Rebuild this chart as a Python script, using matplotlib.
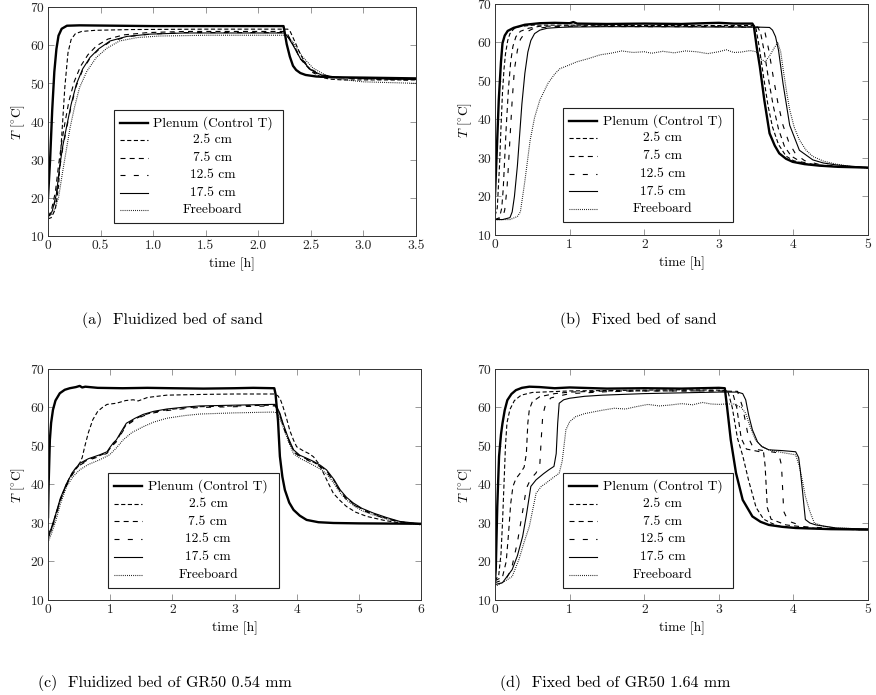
import matplotlib
matplotlib.use("Agg")
import matplotlib.pyplot as plt
from matplotlib.lines import Line2D
from matplotlib.patches import Rectangle


# ---- data (time in h, temperature in degC) ----
SERIES = ["Plenum (Control T)", "2.5 cm", "7.5 cm", "12.5 cm", "17.5 cm", "Freeboard"]

# (a) fluidized bed of sand
a_plenum_t = [0, 0.02, 0.04, 0.06, 0.08, 0.10, 0.13, 0.18, 0.30, 1.0, 2.0, 2.24, 2.25, 2.27, 2.30, 2.33, 2.36, 2.40, 2.45, 2.55, 2.7, 3.0, 3.5]
a_plenum_T = [20, 30, 43, 53, 59, 62.5, 64.3, 65.1, 65.2, 65.0, 65.0, 65.0, 63.5, 60.3, 57.0, 54.6, 53.5, 52.7, 52.2, 51.8, 51.6, 51.5, 51.3]
a_25_t = [0, 0.03, 0.07, 0.10, 0.13, 0.16, 0.19, 0.22, 0.26, 0.32, 0.45, 0.8, 1.5, 2.28, 2.30, 2.35, 2.40, 2.46, 2.52, 2.60, 2.68, 2.8, 3.5]
a_25_T = [14.5, 14.8, 17, 23, 36, 49, 58, 61.5, 63, 63.6, 63.9, 64.1, 64.2, 64.2, 63.8, 60.8, 57.6, 54.8, 52.8, 51.6, 51.1, 50.9, 50.9]
a_75_t = [0, 0.03, 0.07, 0.10, 0.13, 0.16, 0.20, 0.25, 0.31, 0.38, 0.46, 0.57, 0.72, 0.95, 1.3, 2.25, 2.28, 2.33, 2.40, 2.50, 2.60, 2.75, 3.0, 3.5]
a_75_T = [15, 16.5, 21.5, 28.5, 34.5, 39.5, 45.5, 50.5, 54.5, 57.5, 59.8, 61.6, 62.7, 63.3, 63.6, 63.6, 62.8, 60.2, 56.4, 53.3, 52.0, 51.5, 51.2, 51.0]
a_125_t = [0, 0.04, 0.08, 0.11, 0.14, 0.175, 0.22, 0.27, 0.33, 0.40, 0.48, 0.59, 0.75, 0.97, 1.3, 2.25, 2.28, 2.33, 2.4, 2.5, 2.6, 2.75, 3.0, 3.5]
a_125_T = [15, 16.3, 20.5, 27.5, 33, 38, 44, 49.4, 53.5, 56.6, 58.8, 60.9, 62.2, 62.9, 63.3, 63.3, 62.5, 60.3, 56.8, 53.7, 52.3, 51.6, 51.2, 50.8]
a_175_t = [0, 0.04, 0.08, 0.11, 0.14, 0.175, 0.22, 0.27, 0.33, 0.40, 0.48, 0.59, 0.75, 0.97, 1.3, 2.25, 2.28, 2.33, 2.4, 2.5, 2.6, 2.75, 3.0, 3.5]
a_175_T = [15, 16.5, 21, 28, 33.5, 38.4, 44.5, 49.8, 53.8, 56.8, 59.0, 61.1, 62.3, 62.9, 63.2, 63.2, 62.2, 60.0, 56.5, 53.5, 52.2, 51.6, 51.3, 51.0]
a_fb_t = [0, 0.05, 0.10, 0.14, 0.18, 0.21, 0.25, 0.30, 0.37, 0.46, 0.56, 0.68, 0.85, 1.06, 1.5, 2.25, 2.29, 2.34, 2.42, 2.52, 2.65, 2.8, 3.0, 3.5]
a_fb_T = [15, 16, 20, 27, 33.5, 38.4, 43.5, 48.9, 53.2, 56.8, 59.2, 61.1, 62.0, 62.4, 62.6, 62.6, 61.9, 60.5, 57.0, 54.0, 52.0, 51.0, 50.4, 50.0]

# (b) fixed bed of sand
b_plenum_t = [0, 0.02, 0.05, 0.08, 0.10, 0.13, 0.17, 0.25, 0.4, 0.6, 0.8, 1.0, 1.05, 1.1, 1.5, 2.0, 2.5, 2.8, 3.0, 3.2, 3.45, 3.47, 3.51, 3.55, 3.61, 3.68, 3.75, 3.81, 3.9, 3.99, 4.15, 4.35, 4.6, 5.0]
b_plenum_T = [20.5, 30, 45, 55, 59.8, 61.8, 63.0, 63.8, 64.6, 65.0, 65.1, 65.0, 65.3, 64.9, 64.8, 64.9, 64.8, 65.0, 65.1, 64.9, 64.9, 64.2, 58.5, 53.7, 45, 36.4, 33.2, 31.2, 29.8, 29.0, 28.4, 28.0, 27.7, 27.5]
b_25_t = [0, 0.03, 0.06, 0.08, 0.10, 0.12, 0.14, 0.17, 0.20, 0.25, 0.32, 0.5, 1.0, 2.0, 3.0, 3.48, 3.50, 3.54, 3.60, 3.66, 3.72, 3.80, 3.90, 4.0, 4.2, 4.5, 5.0]
b_25_T = [15, 17, 28, 38, 47, 53, 57, 60.5, 62.3, 63.5, 64.1, 64.5, 64.5, 64.4, 64.4, 64.4, 63.5, 59, 51, 43.5, 38, 33.5, 30.5, 29.3, 28.3, 27.8, 27.5]
b_75_t = [0, 0.06, 0.09, 0.11, 0.13, 0.15, 0.18, 0.21, 0.24, 0.28, 0.34, 0.45, 0.6, 1.0, 2.0, 3.0, 3.52, 3.56, 3.61, 3.67, 3.73, 3.80, 3.88, 3.97, 4.1, 4.3, 4.6, 5.0]
b_75_T = [14, 14.5, 17, 22, 30, 38, 48, 55, 59, 61.5, 62.9, 63.7, 64.2, 64.3, 64.2, 64.2, 64.0, 62.5, 57.5, 50, 43.5, 37.5, 33, 30.5, 29.0, 28.2, 27.8, 27.5]
b_125_t = [0, 0.10, 0.13, 0.16, 0.18, 0.20, 0.23, 0.26, 0.30, 0.34, 0.40, 0.5, 0.7, 1.0, 2.0, 3.0, 3.58, 3.62, 3.67, 3.73, 3.79, 3.86, 3.94, 4.03, 4.15, 4.35, 4.6, 5.0]
b_125_T = [14, 14.3, 16.5, 22, 28, 35, 45, 53, 58, 60.8, 62.5, 63.5, 64.0, 64.2, 64.1, 64.1, 63.9, 62.5, 58, 51, 44.5, 38.5, 34, 31, 29.3, 28.3, 27.8, 27.4]
b_175_t = [0, 0.10, 0.2, 0.23, 0.26, 0.30, 0.33, 0.36, 0.40, 0.44, 0.48, 0.53, 0.6, 0.7, 0.85, 1.0, 1.5, 2.0, 3.0, 3.5, 3.68, 3.72, 3.76, 3.80, 3.86, 3.95, 4.08, 4.26, 4.4, 4.57, 5.0]
b_175_T = [14, 14, 14.5, 16, 20, 28, 36, 44, 52, 57.5, 60.5, 62.3, 63.2, 63.7, 63.9, 64.0, 64.1, 64.1, 64.0, 64.0, 63.9, 63.2, 61.5, 58, 49.4, 38.5, 32.0, 29.5, 28.7, 28.2, 27.5]
b_fb_t = [0, 0.2, 0.3, 0.34, 0.4, 0.47, 0.53, 0.6, 0.71, 0.8, 0.87, 0.95, 1.1, 1.25, 1.41, 1.55, 1.7, 1.85, 2.0, 2.1, 2.25, 2.4, 2.55, 2.7, 2.85, 3.0, 3.1, 3.2, 3.3, 3.42, 3.5, 3.56, 3.62, 3.68, 3.74, 3.79, 3.83, 3.87, 3.91, 3.95, 4.01, 4.08, 4.17, 4.26, 4.4, 4.57, 4.8, 5.0]
b_fb_T = [14, 14, 14.8, 16, 24, 34.5, 40.5, 45, 49.4, 51.8, 53.2, 53.8, 55, 55.8, 56.8, 57.2, 57.8, 57.4, 57.6, 57.2, 57.7, 57.3, 57.8, 57.6, 57.1, 57.6, 58.1, 57.4, 57.5, 57.9, 57.6, 55.8, 55.0, 56.5, 58.5, 60.0, 57.5, 52.0, 47, 42.5, 38, 34.7, 32.0, 30.4, 29.2, 28.4, 27.7, 27.3]

# (c) fluidized bed of GR50 0.54 mm
c_plenum_t = [0, 0.01, 0.03, 0.05, 0.08, 0.12, 0.19, 0.27, 0.35, 0.45, 0.51, 0.55, 0.6, 0.8, 1.2, 1.6, 2.0, 2.5, 3.0, 3.3, 3.64, 3.66, 3.70, 3.73, 3.77, 3.81, 3.88, 3.95, 4.05, 4.16, 4.35, 4.59, 5.0, 6.0]
c_plenum_T = [31.5, 40, 51.6, 56, 59.4, 61.8, 63.7, 64.6, 65.0, 65.3, 65.6, 65.2, 65.4, 65.1, 65.0, 65.1, 65.0, 64.9, 65.0, 65.1, 65.0, 63.5, 56.5, 47.3, 42, 38.6, 35.3, 33.4, 31.9, 30.8, 30.2, 30.0, 29.9, 29.8]
c_25_t = [0, 0.05, 0.13, 0.2, 0.3, 0.4, 0.51, 0.55, 0.59, 0.65, 0.72, 0.8, 0.89, 0.95, 1.1, 1.25, 1.37, 1.45, 1.6, 1.91, 2.5, 3.0, 3.65, 3.70, 3.74, 3.78, 3.84, 3.89, 3.95, 4.0, 4.1, 4.2, 4.27, 4.35, 4.43, 4.51, 4.59, 4.7, 4.8, 4.95, 5.13, 5.4, 5.66, 6.0]
c_25_T = [26, 28, 32.6, 36, 40.3, 43.3, 45.5, 47, 49.8, 53.5, 56.8, 59, 60.2, 60.8, 61.1, 61.8, 62.0, 61.7, 62.6, 63.2, 63.4, 63.5, 63.5, 63.0, 62, 60.2, 57, 54, 51.5, 49.8, 48.8, 48, 47.2, 45.5, 43, 40.3, 37.7, 35.8, 34.3, 32.8, 31.7, 30.7, 30.0, 29.7]
c_bed_t = [0, 0.05, 0.13, 0.2, 0.3, 0.4, 0.51, 0.65, 0.83, 0.95, 0.99, 1.05, 1.1, 1.18, 1.26, 1.4, 1.53, 1.7, 1.91, 2.2, 2.44, 3.0, 3.6, 3.65, 3.68, 3.73, 3.78, 3.86, 3.95, 4.05, 4.15, 4.27, 4.38, 4.48, 4.6, 4.7, 4.8, 4.91, 5.05, 5.23, 5.45, 5.66, 6.0]
c_75_T = [26.5, 28.2, 32.2, 36.2, 40.0, 43.0, 45.2, 46.5, 47.5, 48.3, 49.2, 50.5, 51.3, 53.5, 55.6, 57.0, 58.0, 58.8, 59.4, 59.9, 60.2, 60.4, 60.6, 60.6, 60.0, 58.2, 55.5, 52.0, 48.8, 47.4, 46.7, 45.8, 44.8, 43.5, 41.0, 38.3, 36.4, 35.0, 33.6, 32.4, 31.2, 30.3, 29.7]
c_125_T = [26.2, 28.0, 32.0, 36.0, 39.8, 42.8, 45.0, 46.3, 47.3, 48.1, 49.0, 50.3, 51.1, 53.2, 55.3, 56.8, 57.8, 58.6, 59.2, 59.7, 60.0, 60.2, 60.4, 60.4, 59.8, 58.0, 55.2, 51.7, 48.5, 47.2, 46.5, 45.6, 44.6, 43.3, 40.8, 38.1, 36.2, 34.8, 33.4, 32.2, 31.1, 30.2, 29.6]
c_175_T = [27, 28.5, 32.6, 36.5, 40.3, 43.3, 45.5, 46.7, 47.7, 48.5, 49.5, 50.8, 51.6, 53.8, 55.9, 57.2, 58.2, 59.0, 59.6, 60.1, 60.4, 60.6, 60.8, 60.8, 60.2, 58.5, 55.9, 52.3, 49, 47.6, 46.9, 46.0, 45.0, 43.8, 41.3, 38.6, 36.7, 35.2, 33.8, 32.6, 31.4, 30.4, 29.8]
c_fb_t = [0, 0.05, 0.13, 0.2, 0.3, 0.4, 0.51, 0.65, 0.83, 0.99, 1.1, 1.21, 1.35, 1.53, 1.7, 1.91, 2.2, 2.44, 3.0, 3.6, 3.65, 3.70, 3.78, 3.86, 3.95, 4.05, 4.15, 4.27, 4.38, 4.48, 4.6, 4.7, 4.8, 4.91, 5.05, 5.23, 5.45, 5.66, 6.0]
c_fb_T = [25, 27, 30.8, 35, 39.5, 42, 43.8, 45.2, 46.4, 47.7, 49.5, 51.6, 53.5, 55.0, 56.2, 57.2, 57.9, 58.3, 58.6, 58.8, 58.8, 58.2, 55.0, 51.5, 48.0, 46.8, 46.0, 45.0, 44.0, 42.8, 40.3, 37.8, 36.0, 34.6, 33.2, 32.1, 31.0, 30.3, 29.5]

# (d) fixed bed of GR50 1.64 mm
d_plenum_t = [0, 0.01, 0.03, 0.054, 0.08, 0.1, 0.13, 0.165, 0.22, 0.28, 0.36, 0.46, 0.6, 0.8, 1.0, 1.5, 2.0, 2.5, 3.0, 3.08, 3.11, 3.16, 3.23, 3.32, 3.45, 3.56, 3.67, 3.85, 4.03, 4.5, 5.0]
d_plenum_T = [15, 18, 34.3, 47.3, 53, 55.9, 59.3, 61.9, 63.5, 64.5, 65.1, 65.4, 65.3, 65.0, 65.2, 64.9, 65.0, 64.9, 65.1, 65.0, 60.2, 51.6, 43, 36, 31.7, 30.3, 29.5, 29.0, 28.7, 28.4, 28.3]
d_25_t = [0, 0.05, 0.08, 0.10, 0.12, 0.14, 0.16, 0.20, 0.26, 0.35, 0.5, 1.0, 1.5, 2.0, 2.5, 3.0, 3.12, 3.18, 3.25, 3.32, 3.4, 3.5, 3.6, 3.7, 3.8, 4.0, 4.2, 5.0]
d_25_T = [15, 16.5, 22, 30, 40, 50, 56, 59.5, 61.8, 63.2, 63.9, 64.3, 64.4, 64.5, 64.6, 64.5, 64.3, 60, 52, 47.5, 41, 34, 31, 30.0, 29.2, 28.8, 28.6, 28.2]
d_75_t = [0, 0.10, 0.15, 0.18, 0.21, 0.24, 0.28, 0.34, 0.39, 0.42, 0.44, 0.46, 0.5, 0.6, 0.8, 1.0, 1.5, 3.0, 3.18, 3.24, 3.3, 3.37, 3.5, 3.6, 3.62, 3.65, 3.7, 3.9, 4.3, 5.0]
d_75_T = [15, 16, 20, 27, 35, 39.5, 41.5, 43, 44.5, 48, 56, 59.5, 61.5, 62.8, 63.6, 64.0, 64.3, 64.3, 64.2, 60, 52, 49.2, 48.7, 48.3, 45, 34, 31, 29.5, 28.6, 28.2]
d_125_t = [0, 0.15, 0.22, 0.3, 0.37, 0.42, 0.48, 0.55, 0.6, 0.62, 0.64, 0.68, 0.75, 1.0, 1.5, 2.0, 3.0, 3.25, 3.32, 3.4, 3.47, 3.6, 3.8, 3.84, 3.87, 3.93, 4.15, 5.0]
d_125_T = [14.5, 15.5, 18, 25, 33, 39, 41.5, 43, 45, 52, 58, 61, 62.5, 63.6, 64.1, 64.3, 64.3, 64.2, 60, 52, 49.2, 48.8, 48.2, 45, 33, 30.5, 29, 28.2]
d_175_t = [0, 0.1, 0.23, 0.3, 0.37, 0.42, 0.48, 0.55, 0.65, 0.72, 0.79, 0.82, 0.84, 0.86, 0.92, 1.0, 1.2, 1.44, 2.0, 2.5, 3.0, 3.25, 3.32, 3.36, 3.4, 3.45, 3.52, 3.58, 3.67, 3.85, 4.03, 4.07, 4.09, 4.12, 4.16, 4.22, 4.3, 4.57, 5.0]
d_175_T = [14, 14.5, 17.9, 21.5, 26.5, 32, 39.5, 41.2, 42.8, 43.8, 44.7, 48, 55.9, 61.1, 62, 62.4, 62.9, 63.2, 63.6, 63.8, 64.0, 64.0, 63.6, 62, 58, 54.2, 51, 49.8, 49.0, 48.8, 48.5, 47, 44, 38.6, 30.9, 30, 29.5, 28.7, 28.4]
d_fb_t = [0, 0.1, 0.23, 0.32, 0.39, 0.46, 0.55, 0.62, 0.68, 0.78, 0.86, 0.9, 0.95, 1.0, 1.08, 1.2, 1.44, 1.6, 1.75, 1.89, 2.05, 2.2, 2.33, 2.5, 2.65, 2.78, 2.9, 3.0, 3.09, 3.2, 3.3, 3.36, 3.42, 3.49, 3.57, 3.67, 3.85, 4.03, 4.08, 4.12, 4.16, 4.22, 4.28, 4.4, 4.57, 5.0]
d_fb_T = [13.5, 14.5, 16.1, 20.5, 25, 29.1, 37.7, 39.5, 40.3, 41.8, 42.9, 46, 54.2, 56.3, 57.6, 58.4, 59.3, 59.8, 59.6, 60.2, 60.8, 60.4, 60.6, 61.0, 60.7, 61.3, 60.9, 60.8, 60.9, 60.9, 60.0, 58.5, 55, 51.6, 50, 49, 48.3, 47.7, 44.7, 41, 36.9, 33, 30.0, 29.2, 28.7, 28.4]

X_TICKS_A = [0, 0.5, 1.0, 1.5, 2.0, 2.5, 3.0, 3.5]
X_LABELS_A = ["0", "0.5", "1.0", "1.5", "2.0", "2.5", "3.0", "3.5"]
Y_TICKS = [10, 20, 30, 40, 50, 60, 70]
CAPTIONS = [
    "(a)  Fluidized bed of sand",
    "(b)  Fixed bed of sand",
    "(c)  Fluidized bed of GR50 0.54 mm",
    "(d)  Fixed bed of GR50 1.64 mm",
]

FS = 9.7

STYLES = {
    "Plenum (Control T)": dict(lw=1.7, ls="-"),
    "2.5 cm": dict(lw=0.8, ls=(0, (3.0, 1.8))),
    "7.5 cm": dict(lw=0.8, ls=(0, (3.6, 3.0))),
    "12.5 cm": dict(lw=0.8, ls=(0, (3.6, 6.0))),
    "17.5 cm": dict(lw=0.8, ls="-"),
    "Freeboard": dict(lw=0.8, ls=(0, (0.6, 0.9))),
}


def set_style():
    plt.rcParams.update(
        {
            "font.family": ["cmr10", "DejaVu Serif"],
            "mathtext.fontset": "cm",
            "axes.formatter.use_mathtext": True,
            "font.size": FS,
            "lines.scale_dashes": False,
            "axes.linewidth": 0.7,
            "axes.edgecolor": "#333333",
            "xtick.direction": "in",
            "ytick.direction": "in",
            "xtick.top": True,
            "ytick.right": True,
            "xtick.major.size": 4.0,
            "ytick.major.size": 4.0,
            "xtick.major.width": 0.6,
            "ytick.major.width": 0.6,
            "xtick.color": "#888888",
            "ytick.color": "#888888",
            "xtick.labelcolor": "#222222",
            "ytick.labelcolor": "#222222",
            "xtick.major.pad": 2.5,
            "ytick.major.pad": 2.5,
        }
    )


def draw_legend(ax, box):
    # pgfplots-like legend: short sample on the left, centred label
    x0, y0, x1, y1 = box
    w, h = x1 - x0, y1 - y0
    ax.add_patch(Rectangle((x0, y0), w, h, transform=ax.transAxes,
                           facecolor="white", edgecolor="#222222",
                           linewidth=0.8, zorder=5))
    for i, name in enumerate(SERIES):
        y = y1 - (0.112 + 0.155 * i) * h
        ax.add_line(Line2D([x0 + 0.036 * w, x0 + 0.20 * w], [y, y],
                           transform=ax.transAxes, color="black",
                           zorder=6, **STYLES[name]))
        ax.text(x0 + 0.585 * w, y, name, transform=ax.transAxes,
                ha="center", va="center", fontsize=FS, zorder=6)


def panel(ax, curves, xlim, xticks, xlabels, legend_box):
    for name, (t, T) in zip(SERIES, curves):
        ax.plot(t, T, color="black", **STYLES[name])
    ax.set_xlim(*xlim)
    ax.set_ylim(10, 70)
    ax.set_xticks(xticks)
    ax.set_xticklabels(xlabels)
    ax.set_yticks(Y_TICKS)
    ax.set_xlabel("time [h]", labelpad=4)
    ax.set_ylabel(r"$T$ [$^{\circ}$C]", labelpad=2)
    draw_legend(ax, legend_box)


def main():
    set_style()
    fig = plt.figure(figsize=(8.76, 6.95), dpi=100)

    ax_a = fig.add_axes([0.0548, 0.6604, 0.4201, 0.3295])
    ax_b = fig.add_axes([0.5651, 0.6619, 0.4258, 0.3324])
    ax_c = fig.add_axes([0.0548, 0.1367, 0.4258, 0.3324])
    ax_d = fig.add_axes([0.5651, 0.1367, 0.4258, 0.3324])

    xt5 = [0, 1, 2, 3, 4, 5]
    xt6 = [0, 1, 2, 3, 4, 5, 6]

    panel(ax_a,
          [(a_plenum_t, a_plenum_T), (a_25_t, a_25_T), (a_75_t, a_75_T),
           (a_125_t, a_125_T), (a_175_t, a_175_T), (a_fb_t, a_fb_T)],
          (0, 3.5), X_TICKS_A, X_LABELS_A, (0.179, 0.057, 0.639, 0.550))
    panel(ax_b,
          [(b_plenum_t, b_plenum_T), (b_25_t, b_25_T), (b_75_t, b_75_T),
           (b_125_t, b_125_T), (b_175_t, b_175_T), (b_fb_t, b_fb_T)],
          (0, 5), xt5, [str(v) for v in xt5], (0.182, 0.056, 0.638, 0.550))
    panel(ax_c,
          [(c_plenum_t, c_plenum_T), (c_25_t, c_25_T), (c_bed_t, c_75_T),
           (c_bed_t, c_125_T), (c_bed_t, c_175_T), (c_fb_t, c_fb_T)],
          (0, 6), xt6, [str(v) for v in xt6], (0.161, 0.052, 0.619, 0.550))
    panel(ax_d,
          [(d_plenum_t, d_plenum_T), (d_25_t, d_25_T), (d_75_t, d_75_T),
           (d_125_t, d_125_T), (d_175_t, d_175_T), (d_fb_t, d_fb_T)],
          (0, 5), xt5, [str(v) for v in xt5], (0.182, 0.052, 0.638, 0.550))

    cap_pos = [(172 / 876, 1 - 320 / 695), (638 / 876, 1 - 320 / 695),
               (165 / 876, 1 - 683 / 695), (615 / 876, 1 - 683 / 695)]
    for (x, y), text in zip(cap_pos, CAPTIONS):
        fig.text(x, y, text, ha="center", va="center", fontsize=11.5)

    fig.savefig("out.png", dpi=100)


if __name__ == "__main__":
    main()
